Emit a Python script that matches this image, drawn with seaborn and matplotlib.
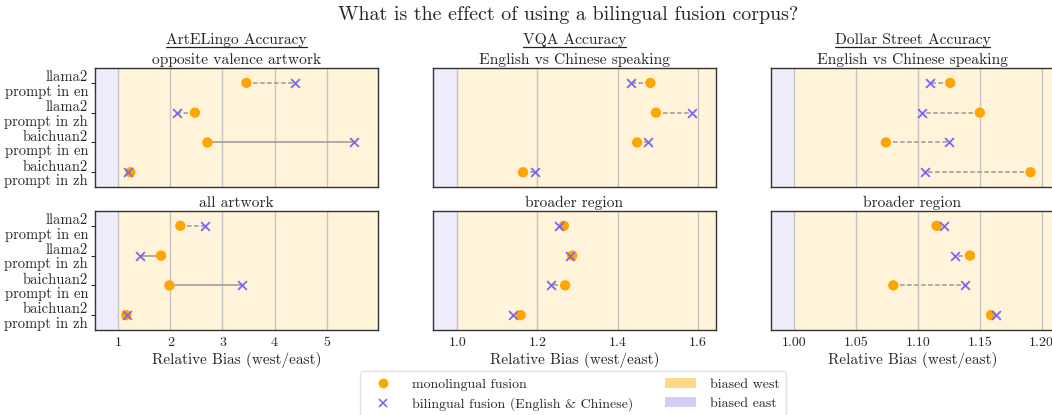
import numpy as np
import pandas as pd
import matplotlib
matplotlib.use("Agg")
import matplotlib.pyplot as plt
import seaborn as sns
from matplotlib.lines import Line2D
from matplotlib.patches import Patch

# ==========================================================
# DATA
# ==========================================================

row_labels = [
    "llama2\nprompt in en",
    "llama2\nprompt in zh",
    "baichuan2\nprompt in en",
    "baichuan2\nprompt in zh",
]

column_heads = ["ArtELingo Accuracy", "VQA Accuracy", "Dollar Street Accuracy"]
top_titles = ["opposite valence artwork", "English vs Chinese speaking", "English vs Chinese speaking"]
bottom_titles = ["all artwork", "broader region", "broader region"]

# monolingual / bilingual relative bias, rows in the order of row_labels
art_top_mono = [3.46, 2.47, 2.71, 1.23]
art_top_bi = [4.39, 2.13, 5.53, 1.18]
art_top_style = ["--", "--", "-", "--"]

art_bot_mono = [2.19, 1.82, 1.98, 1.15]
art_bot_bi = [2.67, 1.41, 3.37, 1.17]
art_bot_style = ["--", "-", "-", "--"]

vqa_top_mono = [1.482, 1.496, 1.449, 1.164]
vqa_top_bi = [1.433, 1.586, 1.475, 1.194]
vqa_top_style = ["--", "--", "--", "--"]

vqa_bot_mono = [1.266, 1.287, 1.269, 1.158]
vqa_bot_bi = [1.255, 1.282, 1.233, 1.138]
vqa_bot_style = ["--", "--", "--", "--"]

ds_top_mono = [1.126, 1.150, 1.074, 1.191]
ds_top_bi = [1.110, 1.103, 1.125, 1.106]
ds_top_style = ["--", "--", "--", "--"]

ds_bot_mono = [1.115, 1.142, 1.080, 1.159]
ds_bot_bi = [1.121, 1.130, 1.138, 1.163]
ds_bot_style = ["--", "--", "--", "--"]

x_limits = [(0.55, 5.99), (0.939, 1.646), (0.981, 1.21)]
x_ticks = [[1, 2, 3, 4, 5], [1.0, 1.2, 1.4, 1.6], [1.00, 1.05, 1.10, 1.15, 1.20]]
x_ticklabels = [["1", "2", "3", "4", "5"],
                ["1.0", "1.2", "1.4", "1.6"],
                ["1.00", "1.05", "1.10", "1.15", "1.20"]]

panels = [
    [(art_top_mono, art_top_bi, art_top_style),
     (vqa_top_mono, vqa_top_bi, vqa_top_style),
     (ds_top_mono, ds_top_bi, ds_top_style)],
    [(art_bot_mono, art_bot_bi, art_bot_style),
     (vqa_bot_mono, vqa_bot_bi, vqa_bot_style),
     (ds_bot_mono, ds_bot_bi, ds_bot_style)],
]

MONO_COLOR = "#FFA500"
BI_COLOR = "#7B68EE"
WEST_COLOR = "#FFD983"
EAST_COLOR = "#D3CDF8"

# ==========================================================
# STYLE
# ==========================================================

sns.set_theme(style="ticks")
plt.rcParams["font.family"] = ["cmr10", "DejaVu Serif"]
plt.rcParams["axes.formatter.use_mathtext"] = True
plt.rcParams["mathtext.fontset"] = "cm"

fig, axes = plt.subplots(2, 3, figsize=(10.52, 4.15), dpi=100)
fig.subplots_adjust(left=0.0903, right=1.0019, top=0.8361, bottom=0.2048,
                    wspace=0.194, hspace=0.2)

for r in range(2):
    for c in range(3):
        ax = axes[r, c]
        mono, bi, styles = panels[r][c]
        df = pd.DataFrame({"label": row_labels, "mono": mono, "bi": bi})

        lo, hi = x_limits[c]
        ax.axvspan(lo, 1.0, color=EAST_COLOR, alpha=0.35, lw=0, zorder=0)
        ax.axvspan(1.0, hi, color=WEST_COLOR, alpha=0.3, lw=0, zorder=0)

        for i, row in df.iterrows():
            ax.plot([row["mono"], row["bi"]], [row["label"], row["label"]],
                    color="#999999", lw=1.1, ls=styles[i],
                    dashes=(3, 1.6) if styles[i] == "--" else (None, None),
                    zorder=2)

        sns.scatterplot(data=df, x="mono", y="label", ax=ax, color=MONO_COLOR,
                        marker="o", s=55, edgecolor="none", zorder=3)
        sns.scatterplot(data=df, x="bi", y="label", ax=ax, color=BI_COLOR,
                        marker="x", s=40, linewidth=1.3, zorder=4)

        ax.set_xlim(lo, hi)
        ax.set_ylim(3.5, -0.5)
        ax.set_xticks(x_ticks[c])
        ax.grid(axis="x", color="#C4C4C4", lw=1.0, zorder=1)
        ax.set_axisbelow(True)
        ax.set_ylabel("")
        ax.set_xlabel("")

        for sp in ax.spines.values():
            sp.set_color("#333333")
            sp.set_linewidth(1.0)

        if c == 0:
            ax.set_yticks(range(len(row_labels)))
            ax.set_yticklabels(row_labels, fontsize=10.5, linespacing=1.05)
        else:
            ax.set_yticks([])

        if r == 0:
            ax.set_xticklabels([])
            ax.set_title(top_titles[c], fontsize=11.2, pad=3)
        else:
            ax.set_xticklabels(x_ticklabels[c], fontsize=10)
            ax.set_xlabel("Relative Bias (west/east)", fontsize=11, labelpad=2)
            ax.set_title(bottom_titles[c], fontsize=11.2, pad=3)

        ax.tick_params(axis="y", length=3, width=0.8, pad=2)
        ax.tick_params(axis="x", length=0, pad=5)

# column heads, underlined
heads = []
for c in range(3):
    t = axes[0, c].annotate(column_heads[c], xy=(0.5, 1.0), xycoords="axes fraction",
                            xytext=(0, 15), textcoords="offset points",
                            ha="center", va="bottom", fontsize=11.2)
    heads.append(t)

fig.suptitle("What is the effect of using a bilingual fusion corpus?",
             x=0.54, y=0.985, fontsize=14.4)

fig.canvas.draw()
renderer = fig.canvas.get_renderer()
for t in heads:
    bb = t.get_window_extent(renderer).transformed(fig.transFigure.inverted())
    fig.add_artist(Line2D([bb.x0, bb.x1], [bb.y0 + 0.001, bb.y0 + 0.001],
                          transform=fig.transFigure, color="#222222", lw=0.9))

handles = [
    Line2D([], [], ls="none", marker="o", color=MONO_COLOR, markersize=7, markeredgewidth=0),
    Line2D([], [], ls="none", marker="x", color=BI_COLOR, markersize=6, markeredgewidth=1.2),
    Patch(facecolor=WEST_COLOR, edgecolor="none"),
    Patch(facecolor=EAST_COLOR, edgecolor="none"),
]
labels = ["monolingual fusion", "bilingual fusion (English & Chinese)",
          "biased west", "biased east"]
fig.legend(handles, labels, loc="upper center", bbox_to_anchor=(0.545, 0.122),
           ncol=2, fontsize=10, frameon=True, edgecolor="#DDDDDD",
           columnspacing=2.3, handlelength=2.2, handletextpad=1.0,
           borderpad=0.5, labelspacing=0.45)

plt.savefig("out.png", dpi=100)
plt.close()
